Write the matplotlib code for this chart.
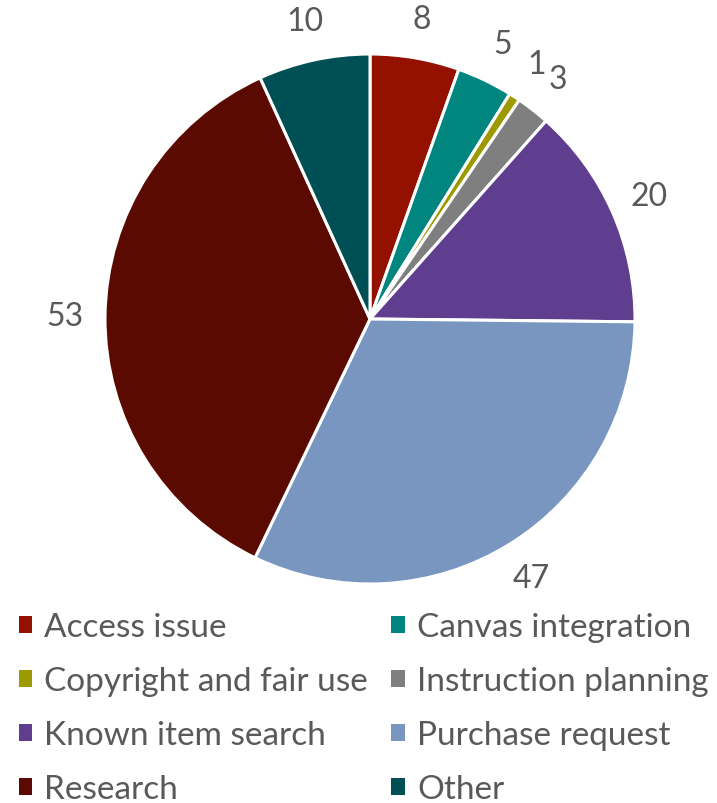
import matplotlib
matplotlib.use('Agg')
import matplotlib.pyplot as plt

plt.rcParams['font.family'] = ['Lato', 'DejaVu Sans']

categories = ['Access issue', 'Canvas integration', 'Copyright and fair use',
              'Instruction planning', 'Known item search', 'Purchase request',
              'Research', 'Other']
counts = [8, 5, 1, 3, 20, 47, 53, 10]
colors = ['#941100', '#00857F', '#9C9A00', '#7F7F7F', '#5F3D8F', '#7896BF',
          '#5A0A00', '#004F55']

W, H = 717, 804
fig = plt.figure(figsize=(W / 100, H / 100), dpi=100)

# pie centre and radius in pixels
cx, cy, r = 370, 320, 265
ax = fig.add_axes([(cx - r) / W, (H - cy - r) / H, 2 * r / W, 2 * r / H])

wedges, texts = ax.pie(counts, labels=[str(c) for c in counts], colors=colors,
                       startangle=90, counterclock=False, labeldistance=1.15,
                       wedgeprops=dict(edgecolor='white', linewidth=2.2),
                       textprops=dict(fontsize=23, color='#595959'))
for t in texts:
    t.set_ha('center')
ax.set_xlim(-1, 1)
ax.set_ylim(-1, 1)
ax.set_aspect('equal')
ax.axis('off')

# legend fills column-first, so reorder to read across rows
order = [0, 2, 4, 6, 1, 3, 5, 7]
leg = fig.legend([wedges[i] for i in order], [categories[i] for i in order],
                 ncol=2, loc='center left', bbox_to_anchor=(0.026, 0.118),
                 frameon=False, fontsize=24, handlelength=0.4, handleheight=0.4,
                 handletextpad=0.37, columnspacing=0.7, labelspacing=0.72,
                 borderaxespad=0, borderpad=0)
for t in leg.get_texts():
    t.set_color('#595959')
for h in leg.legend_handles:
    h.set_edgecolor('none')

fig.savefig('out.png', dpi=100)
